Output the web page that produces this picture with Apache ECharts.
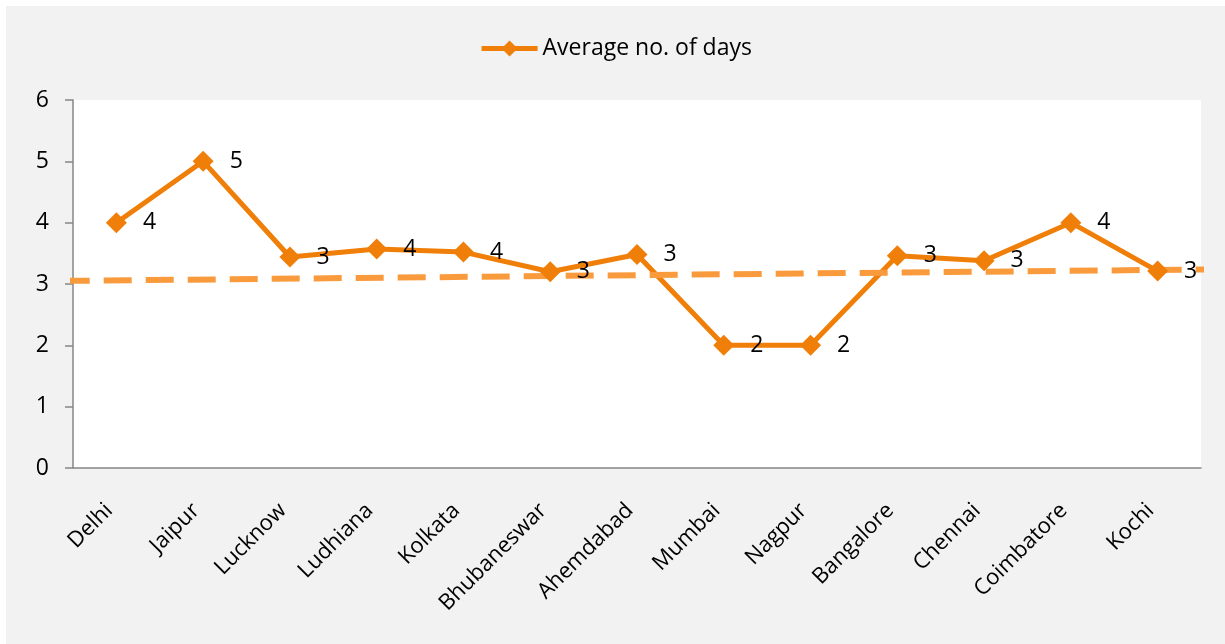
<!DOCTYPE html>
<html>
<head>
<meta charset="utf-8">
<script src="https://cdn.jsdelivr.net/npm/echarts@6/dist/echarts.min.js"></script>
<style>
  html, body { margin: 0; padding: 0; background: #fff; }
  #chart { position: absolute; left: 6px; top: 6px; width: 1219px; height: 638px; background: #f2f2f2; }
</style>
</head>
<body>
<div id="chart"></div>
<script>
  // cities on the x axis
  var cities = ['Delhi', 'Jaipur', 'Lucknow', 'Ludhiana', 'Kolkata', 'Bhubaneswar', 'Ahemdabad',
    'Mumbai', 'Nagpur', 'Bangalore', 'Chennai', 'Coimbatore', 'Kochi']
  // average no. of days
  var avgDays = [4, 5, 3.44, 3.57, 3.52, 3.2, 3.48, 2, 2, 3.46, 3.38, 4, 3.21]
  // trend line ends (x in category index units, y in days)
  var trendX = [-0.63, 12.75]
  var trendY = [3.05, 3.24]
  var yTicks = [0, 1, 2, 3, 4, 5, 6]

  var font = 'Open Sans'
  var chart = echarts.init(document.getElementById('chart'))
  var option = {
    animation: false,
    textStyle: { fontFamily: font },
    legend: {
      data: ['Average no. of days'],
      top: 26,
      left: 'center',
      itemWidth: 56,
      itemHeight: 20,
      itemGap: 4,
      lineStyle: { width: 5 },
      textStyle: { fontSize: 23, color: '#000', fontFamily: font }
    },
    grid: {
      left: 67,
      top: 94,
      right: 24,
      bottom: 176,
      show: true,
      backgroundColor: '#fff',
      borderWidth: 0
    },
    xAxis: [
      {
        type: 'category',
        data: cities,
        boundaryGap: true,
        axisLine: { lineStyle: { color: '#868686', width: 1.5 } },
        axisTick: { show: false },
        axisLabel: {
          rotate: 45, fontSize: 22, color: '#000', margin: 32, interval: 0,
          padding: [0, 10, 0, 0], fontFamily: font
        }
      },
      {
        type: 'value',
        min: -0.5,
        max: 12.5,
        show: false
      }
    ],
    yAxis: {
      type: 'value',
      min: yTicks[0],
      max: yTicks[yTicks.length - 1],
      interval: 1,
      axisLine: { show: true, onZero: false, lineStyle: { color: '#868686', width: 1.5 } },
      axisTick: { show: true, length: 8, lineStyle: { color: '#868686', width: 1.5 } },
      splitLine: { show: false },
      axisLabel: { fontSize: 23, color: '#000', margin: 24, fontFamily: font }
    },
    series: [
      {
        name: 'Average no. of days',
        type: 'line',
        data: avgDays,
        symbol: 'diamond',
        symbolSize: 21,
        itemStyle: { color: '#f07f09' },
        lineStyle: { color: '#f07f09', width: 5 },
        label: {
          show: true,
          position: 'right',
          distance: 16,
          fontSize: 23,
          color: '#000',
          fontFamily: font,
          formatter: function (p) { return Math.round(p.value) }
        }
      },
      {
        name: 'trend',
        type: 'line',
        xAxisIndex: 1,
        data: trendX.map(function (x, i) { return [x, trendY[i]] }),
        showSymbol: false,
        symbol: 'none',
        clip: false,
        silent: true,
        lineStyle: { color: '#f99b3c', width: 6, type: [28, 14] },
        z: 3
      }
    ]
  }
  chart.setOption(option)
</script>
</body>
</html>
